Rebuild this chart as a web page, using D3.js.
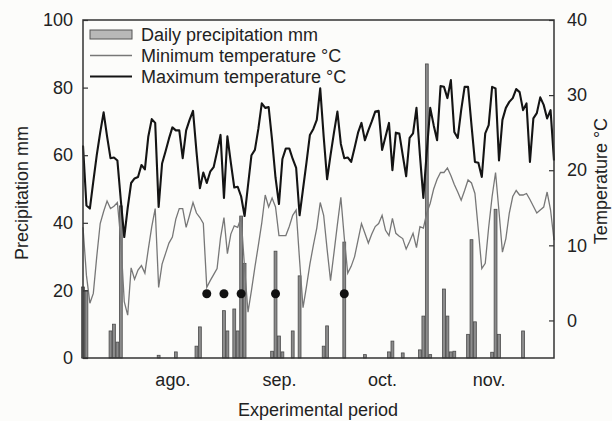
<!DOCTYPE html>
<html>
<head>
<meta charset="utf-8">
<script src="https://cdn.jsdelivr.net/npm/d3@7"></script>
<style>
    body { margin: 0; background: #fcfcfa; }
    svg { display: block; }
</style>
</head>
<body>
<div id="chart"></div>
<script>
// First day of the experimental period, one value per day after it
const startDate = new Date(2010, 6, 21);

const maxTemp = [23.3, 15.3, 14.9, 18.5, 22, 25, 27.7, 24.5, 21.6, 21.7,
    21.3, 16, 11.1, 15, 18.3, 18.9, 19.1, 20.7, 20.1, 24.5,
    26.8, 26.3, 15.1, 20.9, 22.5, 24.2, 25.7, 25.3, 25.3, 21.6,
    25.3, 26.7, 27.9, 22.5, 17.6, 19.7, 18.3, 19.8, 20.4, 22.5,
    24.7, 16.3, 24.5, 21, 17.7, 17.8, 16.5, 13.9, 18, 22,
    22.7, 25.5, 28.9, 28.3, 28.4, 24, 19, 15.5, 21.5, 22.9,
    22.9, 21.5, 20.3, 14, 17.5, 21, 24.7, 25.5, 26.7, 30.9,
    24.5, 18.8, 22, 25, 27.8, 23.5, 21.6, 21.7, 21.1, 23,
    25, 26.3, 24, 25.3, 26.5, 27.8, 27.9, 22.7, 24.5, 26.3,
    20, 25, 24.9, 22, 19.2, 24.3, 24.9, 28.3, 22, 16.3,
    22.5, 28.3, 26, 24, 31.2, 31.1, 29.6, 32, 25.1, 24.3,
    28, 31.1, 31.1, 26, 21.1, 21, 19.1, 24.9, 26, 31.1,
    30.9, 21.3, 26.7, 28.3, 29.1, 29.6, 30.8, 30.4, 28, 28.9,
    21.1, 26.9, 27.6, 29.7, 28.7, 26.9, 28, 21.3];

const minTemp = [12.4, 6, 2.3, 3.6, 8.5, 12.9, 14.5, 15.9, 14.9, 15.2,
    15.7, 10.7, 2.5, 0.7, 7, 5.5, 6.7, 7.3, 6.3, 9.5,
    12.5, 14.9, 4.4, 7.5, 8.9, 10.3, 11.1, 13.5, 14.9, 14.9,
    12.4, 14, 15.7, 14.3, 13.7, 12.9, 4.4, 5.3, 6.1, 6.9,
    11, 13.7, 8.9, 11.5, 12.6, 12.4, 13.7, 7, 1.1, 4,
    7.1, 10, 13, 16.7, 15.1, 16.3, 15.1, 11.3, 11.3, 11.3,
    12.5, 14, 14.7, 8, 1.7, 4.5, 7.5, 10, 12.3, 15.7,
    14, 9.5, 5.3, 9, 12.8, 16.4, 11, 6.3, 7.2, 8.5,
    10.7, 12.9, 11.6, 10.3, 11.5, 12.5, 12.9, 14, 12, 11.3,
    13.6, 11.6, 11.2, 10.9, 9.5, 10.5, 11.6, 9.7, 12.5, 12.3,
    14.3, 15.6, 17.5, 18.8, 19.7, 19.7, 20.3, 19.3, 18.1, 17.1,
    16, 17.3, 18.7, 18.3, 16.9, 12, 6.9, 7.6, 12.4, 16.5,
    19.7, 14.5, 9.1, 10.9, 14.3, 16.5, 17.3, 16.7, 16.7, 16.9,
    16.1, 15.2, 14.3, 14.7, 15.1, 17.1, 14.7, 10.7];

// Rain: day number and mm
const rainDays = [0, 1, 8, 9, 10, 11, 22, 27, 33, 34, 41, 42, 44, 45, 46, 47,
    55, 56, 57, 58, 61, 63, 70, 71, 76, 82, 89, 90, 93, 98, 99, 100, 101,
    105, 106, 107, 108, 112, 113, 114, 119, 120, 121, 128];
const rainMm = [21, 20, 8, 10, 4.7, 45, 0.8, 1.8, 3.5, 9.2, 14, 8, 14.5, 8, 42, 28,
    2, 31.6, 6.5, 1.8, 8, 24.3, 3.5, 9.5, 34.3, 1, 1.8, 5, 1.5, 2.4, 12.4, 87, 1,
    20.4, 12.4, 1.8, 2, 7, 35, 10.7, 1.7, 44, 7, 8];

// Black dots (days) drawn at a fixed height on the precipitation axis
const markDays = [36, 41, 46, 56, 76];
const markMm = 19;

const monthTicks = [new Date(2010, 7, 16), new Date(2010, 8, 16), new Date(2010, 9, 16), new Date(2010, 10, 16)];
const monthLabels = ["ago.", "sep.", "oct.", "nov."];
const precipTicks = [0, 20, 40, 60, 80, 100];
const tempTicks = [0, 10, 20, 30, 40];

const legendItems = ["Daily precipitation mm", "Minimum temperature °C", "Maximum temperature °C"];

const width = 612, height = 421;
const margin = { top: 20, right: 58, bottom: 63, left: 83 };
const font = "'Liberation Sans', Arial, sans-serif";

const dayDate = i => d3.timeDay.offset(startDate, i);

const svg = d3.select("#chart").append("svg")
    .attr("width", width)
    .attr("height", height);

const x = d3.scaleTime()
    .domain([startDate, dayDate(maxTemp.length - 1)])
    .range([margin.left, width - margin.right]);

const yP = d3.scaleLinear()
    .domain([0, 100])
    .range([height - margin.bottom, margin.top]);

const yT = d3.scaleLinear()
    .domain([-5, 40])
    .range([height - margin.bottom, margin.top]);

const barW = x(dayDate(1)) - x(startDate) - 0.6;

// Precipitation bars
svg.append("g")
    .selectAll("rect")
    .data(rainDays)
    .enter()
    .append("rect")
    .attr("x", (d) => x(dayDate(d + 0.5)) - barW / 2)
    .attr("y", (d, i) => yP(rainMm[i]))
    .attr("width", barW)
    .attr("height", (d, i) => yP(0) - yP(rainMm[i]))
    .attr("fill", "#8c8c8c")
    .attr("stroke", "#4a4a4a")
    .attr("stroke-width", 0.8);

const line = d3.line()
    .x((d, i) => x(dayDate(i)))
    .y(d => yT(d));

svg.append("path")
    .datum(minTemp)
    .attr("d", line)
    .attr("fill", "none")
    .attr("stroke", "#777")
    .attr("stroke-width", 1.3);

svg.append("path")
    .datum(maxTemp)
    .attr("d", line)
    .attr("fill", "none")
    .attr("stroke", "#141414")
    .attr("stroke-width", 2.1)
    .attr("stroke-linejoin", "round");

svg.append("g")
    .selectAll("circle")
    .data(markDays)
    .enter()
    .append("circle")
    .attr("cx", d => x(dayDate(d + 0.5)))
    .attr("cy", yP(markMm))
    .attr("r", 4.5)
    .attr("fill", "#111");

// Axes
const leftAxis = svg.append("g")
    .attr("transform", `translate(${margin.left},0)`)
    .call(d3.axisLeft(yP).tickValues(precipTicks).tickSize(-5).tickPadding(10));

const rightAxis = svg.append("g")
    .attr("transform", `translate(${width - margin.right},0)`)
    .call(d3.axisRight(yT).tickValues(tempTicks).tickSize(-5).tickPadding(13));

const bottomAxis = svg.append("g")
    .attr("transform", `translate(0,${height - margin.bottom})`)
    .call(d3.axisBottom(x).tickValues(monthTicks).tickFormat((d, i) => monthLabels[i]).tickSize(0).tickPadding(15));

[leftAxis, rightAxis, bottomAxis].forEach(a => {
    a.select(".domain").remove();
    a.attr("font-size", 18).attr("font-family", font);
    a.selectAll("text").attr("fill", "#222");
    a.selectAll("line").attr("stroke", "#333").attr("stroke-width", 1.2);
});

// Frame
svg.append("rect")
    .attr("x", margin.left)
    .attr("y", margin.top)
    .attr("width", width - margin.left - margin.right)
    .attr("height", height - margin.top - margin.bottom)
    .attr("fill", "none")
    .attr("stroke", "#333")
    .attr("stroke-width", 1.5);

// Axis titles
svg.append("text")
    .attr("transform", "translate(28,193) rotate(-90)")
    .attr("text-anchor", "middle")
    .style("font-family", font)
    .style("font-size", "18px")
    .attr("fill", "#222")
    .text("Precipitation mm");

svg.append("text")
    .attr("transform", "translate(607,181) rotate(-90)")
    .attr("text-anchor", "middle")
    .style("font-family", font)
    .style("font-size", "18px")
    .attr("fill", "#222")
    .text("Temperature °C");

svg.append("text")
    .attr("x", 318)
    .attr("y", 416)
    .attr("text-anchor", "middle")
    .style("font-family", font)
    .style("font-size", "18px")
    .attr("fill", "#222")
    .text("Experimental period");

// Legend
const legend = svg.append("g").attr("transform", "translate(90,0)");

legend.append("rect")
    .attr("x", 0).attr("y", 30)
    .attr("width", 42).attr("height", 9)
    .attr("fill", "#b8b8b8")
    .attr("stroke", "#555")
    .attr("stroke-width", 1);

legend.append("line")
    .attr("x1", 0).attr("x2", 42)
    .attr("y1", 55.5).attr("y2", 55.5)
    .attr("stroke", "#777")
    .attr("stroke-width", 1.3);

legend.append("line")
    .attr("x1", 0).attr("x2", 42)
    .attr("y1", 76.5).attr("y2", 76.5)
    .attr("stroke", "#141414")
    .attr("stroke-width", 2.1);

legend.selectAll("text.legend")
    .data(legendItems)
    .enter()
    .append("text")
    .attr("class", "legend")
    .attr("x", 51)
    .attr("y", (d, i) => 41 + i * 21)
    .style("font-family", font)
    .style("font-size", "18px")
    .attr("fill", "#222")
    .text(d => d);
</script>
</body>
</html>
